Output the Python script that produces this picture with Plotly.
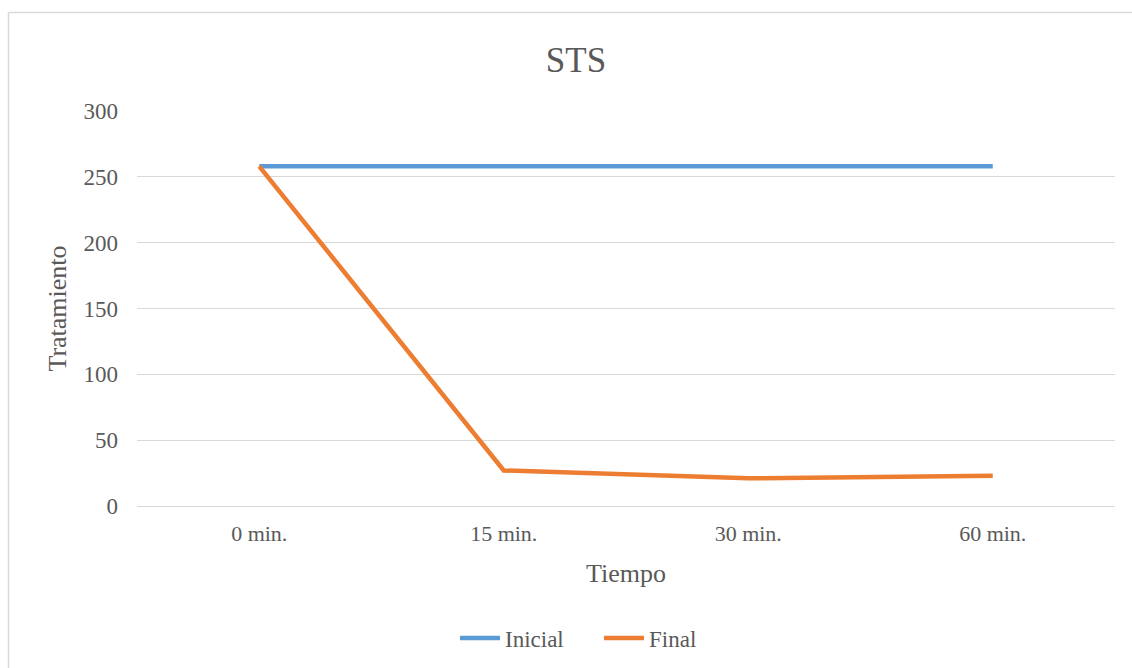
import plotly.graph_objects as go

# STS readings per treatment time
tiempos = ["0 min.", "15 min.", "30 min.", "60 min."]
inicial = [258, 258, 258, 258]
final = [258, 27, 21, 23]

W, H = 1132, 668
ML, MR, MT, MB = 137, 17, 111, 162
plot_w = W - ML - MR
plot_h = H - MT - MB

text_color = "#595959"
grid_color = "#d9d9d9"
font_family = "Liberation Serif, Times New Roman, serif"

fig = go.Figure()
fig.add_trace(go.Scatter(
    x=tiempos, y=inicial, name="Inicial", mode="lines",
    line=dict(color="#5b9bd5", width=4.5),
))
fig.add_trace(go.Scatter(
    x=tiempos, y=final, name="Final", mode="lines",
    line=dict(color="#ed7d31", width=4.5),
))

# outer chart frame (left and top edges visible)
def px_to_paper_x(px):
    return (px - ML) / plot_w

def px_to_paper_y(py):
    return (H - MB - py) / plot_h

frame = dict(type="line", xref="paper", yref="paper",
             line=dict(color=grid_color, width=1.5), layer="below")
fig.add_shape(**frame, x0=px_to_paper_x(8.5), x1=px_to_paper_x(8.5),
              y0=px_to_paper_y(12.5), y1=px_to_paper_y(H + 5))
fig.add_shape(**frame, x0=px_to_paper_x(8.5), x1=px_to_paper_x(W + 5),
              y0=px_to_paper_y(12.5), y1=px_to_paper_y(12.5))

fig.update_layout(
    width=W, height=H,
    margin=dict(l=ML, r=MR, t=MT, b=MB),
    paper_bgcolor="white", plot_bgcolor="white",
    font=dict(family=font_family, color=text_color, size=22),
    title=dict(text="STS", x=576 / W, xref="container", xanchor="center",
               y=1 - 60 / H, yref="container", yanchor="middle",
               font=dict(size=35, color=text_color, family=font_family)),
    showlegend=True,
    legend=dict(orientation="h", x=(455 - 25 + 580 - 553 - 2) / W, xanchor="left",
                xref="container",
                y=1 - 638 / H, yanchor="middle", yref="container",
                font=dict(size=23, color=text_color), itemwidth=40,
                entrywidth=89, traceorder="normal"),
    xaxis=dict(
        type="category", range=[-0.5, 3.5],
        showgrid=False, showline=False, zeroline=False,
        ticks="", ticklabelstandoff=12, tickfont=dict(size=22, color=text_color),
        title=dict(text="Tiempo", font=dict(size=26, color=text_color), standoff=18),
    ),
    yaxis=dict(
        range=[0, 300], tickvals=[0, 50, 100, 150, 200, 250, 300],
        showgrid=True, gridcolor=grid_color, gridwidth=1,
        zeroline=True, zerolinecolor=grid_color, zerolinewidth=1,
        showline=False, ticks="", ticklabelstandoff=18,
        tickfont=dict(size=23, color=text_color),
        title=dict(text="Tratamiento", font=dict(size=26, color=text_color), standoff=9),
    ),
)

fig.write_html("out.html")
